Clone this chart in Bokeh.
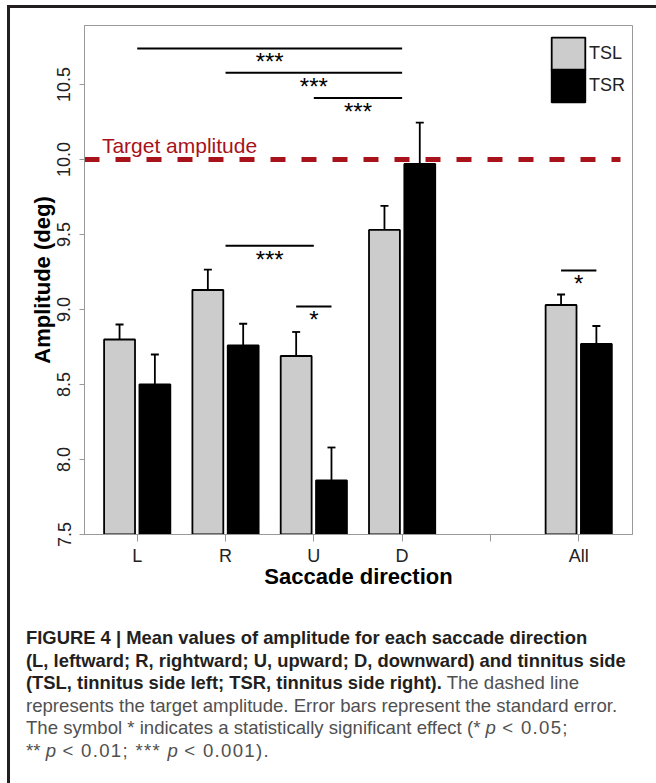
import numpy as np
from bokeh.plotting import figure
from bokeh.models import (FixedTicker, Legend, LegendItem, Whisker, TeeHead,
                          ColumnDataSource, Range1d, Div, NumeralTickFormatter)
from bokeh.layouts import column
from bokeh.embed import file_html
from bokeh.resources import INLINE
from bokeh.core.properties import value

# ---------------- data ----------------
categories = ["L", "R", "U", "D", "All"]
cat_pos = [1, 2, 3, 4, 6]
tick_pos = [1, 2, 3, 4, 5, 6]
tick_labels = ["L", "R", "U", "D", "", "All"]
tsl_mean = [8.80, 9.13, 8.69, 9.53, 9.03]
tsl_se = [0.10, 0.135, 0.16, 0.16, 0.07]
tsr_mean = [8.50, 8.76, 7.86, 9.97, 8.77]
tsr_se = [0.20, 0.145, 0.22, 0.275, 0.12]
y_ticks = [7.5, 8.0, 8.5, 9.0, 9.5, 10.0, 10.5]
target_amplitude = 10.0
target_label = "Target amplitude"
series_names = ["TSL", "TSR"]

# significance brackets: between group centres, or within a group (TSL vs TSR)
sig_from = ["L", "R", "U", "R", "U", "All"]
sig_to = ["D", "D", "D", "U", "U", "All"]
sig_kind = ["between", "between", "between", "between", "within", "within"]
sig_y = [10.74, 10.578, 10.41, 9.425, 9.02, 9.26]
sig_text = ["***", "***", "***", "***", "*", "*"]

caption_lines = [
    "FIGURE 4 | Mean values of amplitude for each saccade direction",
    "(L, leftward; R, rightward; U, upward; D, downward) and tinnitus side",
    "(TSL, tinnitus side left; TSR, tinnitus side right).",
    " The dashed line",
    "represents the target amplitude. Error bars represent the standard error.",
    "The symbol * indicates a statistically significant effect (*&nbsp;",
    "p", " &lt; 0.05;",
    "**&nbsp;", "p", " &lt; 0.01; ***&nbsp;", "p", " &lt; 0.001).",
]

# ---------------- style ----------------
FONT = "Liberation Sans"
GRAY = "#cccccc"
RED = "#a8121a"
AXC = "#999999"
DODGE = 0.2
BAR_W = 0.35
Y0, Y1 = 7.5, 10.893
X0, X1 = 0.403, 6.609
FRAME_H = 509
LABEL_LIFT_PX = 14

p = figure(width=646, height=592, output_backend="svg", toolbar_location=None,
           x_range=Range1d(X0, X1), y_range=Range1d(Y0, Y1),
           min_border_left=74, min_border_right=24, min_border_top=17,
           min_border_bottom=66)
p.xgrid.visible = False
p.ygrid.visible = False
p.outline_line_color = AXC
p.outline_line_width = 1
p.background_fill_color = "white"
p.border_fill_color = "white"

pos_of = dict(zip(categories, cat_pos))
x_tsl = [c - DODGE for c in cat_pos]
x_tsr = [c + DODGE for c in cat_pos]

src_l = ColumnDataSource(dict(x=x_tsl, top=tsl_mean,
                              up=[m + s for m, s in zip(tsl_mean, tsl_se)]))
src_r = ColumnDataSource(dict(x=x_tsr, top=tsr_mean,
                              up=[m + s for m, s in zip(tsr_mean, tsr_se)]))

r_l = p.vbar(x="x", top="top", bottom=Y0, width=BAR_W, source=src_l,
             fill_color=GRAY, line_color="black", line_width=1.8)
r_r = p.vbar(x="x", top="top", bottom=Y0, width=BAR_W, source=src_r,
             fill_color="black", line_color="black", line_width=1.8)

for src in (src_l, src_r):
    w = Whisker(base="x", upper="up", lower="top", dimension="height", source=src,
                line_width=1.8, line_color="black",
                upper_head=TeeHead(size=8, line_width=1.8, line_color="black"),
                lower_head=None, level="overlay")
    p.add_layout(w)

# target line + label
p.segment(x0=[X0], x1=[6.473], y0=[target_amplitude], y1=[target_amplitude],
          line_color=RED, line_width=5, line_dash="15 16")
lift = LABEL_LIFT_PX * (Y1 - Y0) / FRAME_H
p.text(x=[0.6], y=[target_amplitude + lift], text=[target_label],
       text_font=value(FONT), text_font_size="21px", text_color=RED,
       text_baseline="alphabetic", text_align="left")

# significance brackets
sx0, sx1 = [], []
for a, b, k in zip(sig_from, sig_to, sig_kind):
    if k == "between":
        sx0.append(pos_of[a]); sx1.append(pos_of[b])
    else:
        sx0.append(pos_of[a] - DODGE); sx1.append(pos_of[b] + DODGE)
p.segment(x0=sx0, x1=sx1, y0=sig_y, y1=sig_y, line_color="black", line_width=2)
p.text(x=[(a + b) / 2 for a, b in zip(sx0, sx1)], y=sig_y, text=sig_text,
       text_font=value(FONT), text_font_size="24px", text_color="black",
       text_align="center", text_baseline="top")

# axes
p.xaxis.ticker = FixedTicker(ticks=tick_pos)
p.xaxis.major_label_overrides = {t: l for t, l in zip(tick_pos, tick_labels)}
p.xaxis.minor_tick_line_color = None
p.xaxis.major_tick_in = 0
p.xaxis.major_tick_out = 7
p.xaxis.major_label_standoff = 4
p.xaxis.axis_label = "Saccade direction"
p.xaxis.axis_label_standoff = -5

p.yaxis.ticker = FixedTicker(ticks=y_ticks)
p.yaxis.formatter = NumeralTickFormatter(format="0.0")
p.yaxis.minor_tick_line_color = None
p.yaxis.major_tick_in = 0
p.yaxis.major_tick_out = 5
p.yaxis.major_label_standoff = 9
p.yaxis.major_label_orientation = "vertical"
p.yaxis.axis_label = "Amplitude (deg)"
p.yaxis.axis_label_standoff = 0

for ax in (p.xaxis, p.yaxis):
    ax.axis_line_color = AXC
    ax.major_tick_line_color = AXC
    ax.major_label_text_font = FONT
    ax.major_label_text_font_size = "18px"
    ax.major_label_text_color = "#222222"
    ax.axis_label_text_font = FONT
    ax.axis_label_text_font_size = "22px"
    ax.axis_label_text_font_style = "bold"
    ax.axis_label_text_color = "black"

# legend: one legend per series so that the two keys touch (as in the original)
for name, rend, loc in zip(series_names, [r_l, r_r], [(463, 460), (463, 428)]):
    lg = Legend(items=[LegendItem(label=name, renderers=[rend])],
                location=loc, glyph_width=42, glyph_height=41,
                spacing=0, padding=0, margin=0, label_standoff=0,
                label_text_font=FONT, label_text_font_size="18px",
                label_text_color="#222222", background_fill_alpha=0,
                border_line_alpha=0)
    p.add_layout(lg)

L = caption_lines
SP = '<span style="letter-spacing:1.3px">'
cap_html = (
    '<div style="font-family:\'Liberation Sans\',Arial,sans-serif;font-size:18.6px;'
    'line-height:22.5px;color:#505050;padding:22px 0 0 11px;white-space:nowrap;">'
    f'<b style="color:#231f20;font-size:18.4px">{L[0]}<br>{L[1]}<br>{L[2]}</b>{L[3]}<br>'
    f'{L[4]}<br>{L[5]}<i>{L[6]}</i>{SP}{L[7]}</span><br>'
    f'{L[8]}<i>{L[9]}</i>{SP}{L[10]}</span><i>{L[11]}</i>{SP}{L[12]}</span></div>'
)
cap = Div(text=cap_html, width=646, height=178)

layout = column(p, cap, spacing=0, margin=(5, 0, 0, 7),
                styles={"border-left": "3px solid #231f20",
                        "border-top": "3px solid #231f20"})

open("out.html", "w").write(file_html(layout, INLINE))
